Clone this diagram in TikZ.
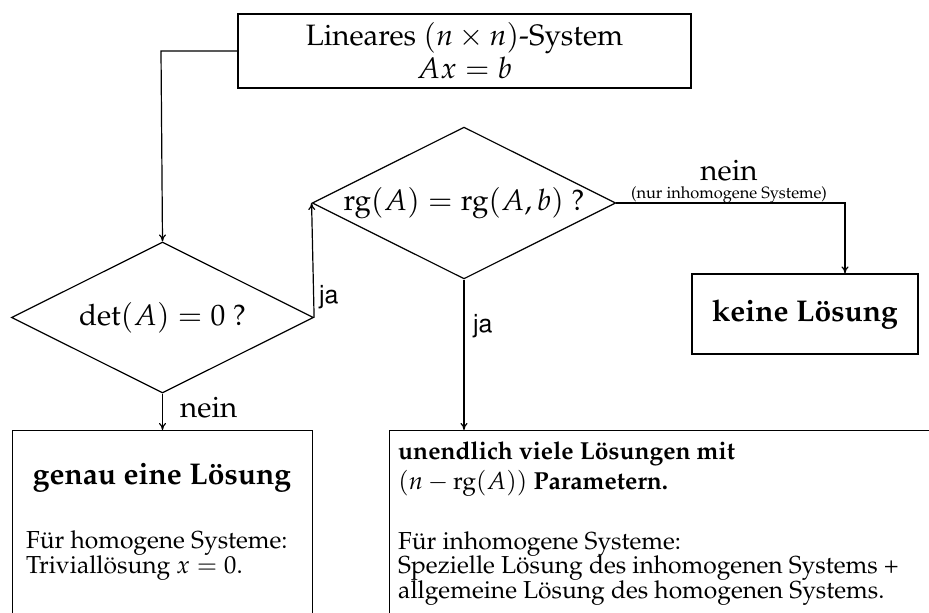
\documentclass[tikz,border=0pt]{standalone}
\usepackage[T1]{fontenc}
\usepackage{mathpazo}
\usepackage[scaled=0.92]{helvet}
\usepackage{amsmath}
\usetikzlibrary{shapes.geometric,arrows.meta}
\tikzset{
  lw/.style={line width=1.2pt},
  boxnode/.style={draw,lw,rectangle,inner sep=0pt},
  decision/.style={draw,lw,diamond,aspect=2,inner sep=0pt,font=\fontsize{29.5}{31}\selectfont},
  conn/.style={lw,-{To[length=7pt,width=7pt]}},
  lbl/.style={inner sep=0pt,font=\fontsize{29.5}{31}\selectfont},
  jalbl/.style={inner sep=0pt,font=\sffamily\fontsize{27}{29}\selectfont},
  smalllbl/.style={inner sep=0pt,font=\fontsize{16.4}{18}\selectfont},
  bigbold/.style={inner sep=0pt,font=\bfseries\fontsize{30}{32}\selectfont},
  bodyl/.style={inner sep=0pt,anchor=base west,font=\fontsize{24.6}{24.6}\selectfont},
  bodyb/.style={inner sep=0pt,anchor=base west,font=\bfseries\fontsize{24.6}{24.6}\selectfont},
}
\begin{document}
\begin{tikzpicture}[x=1pt,y=-1pt]
\useasboundingbox (0,0) rectangle (929,613);
\clip (0,0) rectangle (929,613);
% top box
\node[boxnode,minimum width=453pt,minimum height=74pt,align=center,
  font=\fontsize{29.5}{33}\selectfont] (sys) at (464.5,51)
  {Lineares $(n\times n)$-System\\ $Ax=b$};
% decisions
\node[decision,minimum width=302pt,minimum height=151pt] (det) at (162.5,317.5) {$\det(A)=0$ ?};
\node[decision,minimum width=301pt,minimum height=151pt] (rg) at (464,203) {$\mathrm{rg}(A)=\mathrm{rg}(A,b)$ ?};
% result boxes
\node[boxnode,minimum width=226pt,minimum height=80pt] (keine) at (805,314) {};
\node[bigbold] (keinet) at (keine.center) {keine L\"osung};
\node[boxnode,minimum width=300pt,minimum height=240pt,anchor=north west] (genau) at (12,430) {};
\node[boxnode,minimum width=580pt,minimum height=240pt,anchor=north west] (inf) at (389,430) {};
% texts in left box
\node[bigbold,anchor=base] (g1) at (162,484) {genau eine L\"osung};
\node[bodyl] (g2) at (26,548) {F\"ur homogene Systeme:};
\node[bodyl] (g3) at (26,573.5) {Triviall\"osung $x=0$.};
% texts in right box
\node[bodyb] (i1) at (398,459) {unendlich viele L\"osungen mit};
\node[bodyb] (i2) at (398,489) {$(n-\mathrm{rg}(A))$ Parametern.};
\node[bodyl] (i3) at (398,549) {F\"ur inhomogene Systeme:};
\node[bodyl] (i4) at (398,573.5) {Spezielle L\"osung des inhomogenen Systems +};
\node[bodyl] (i5) at (398,598) {allgemeine L\"osung des homogenen Systems.};
% connectors
\coordinate (c1) at (161,51);
\draw[conn] (sys.west) -- (c1) -- (det.north);
\draw[conn] (det.east) -- (rg.west);
\node[jalbl,anchor=base west] (ja1) at (319,303) {ja};
\draw[conn] (rg.south) -- (rg.south |- inf.north);
\node[jalbl,anchor=base west] (ja2) at (473,332) {ja};
\coordinate (c2) at (845,203);
\draw[conn] (rg.east) -- (c2) -- (c2 |- keine.north);
\node[lbl,anchor=base] (nein1) at (729,180) {nein};
\node[smalllbl,anchor=base] (nur) at (729,198.5) {(nur inhomogene Systeme)};
\draw[conn] (det.south) -- (det.south |- genau.north);
\node[lbl,anchor=base west] (nein2) at (180,417) {nein};
\end{tikzpicture}
\end{document}
